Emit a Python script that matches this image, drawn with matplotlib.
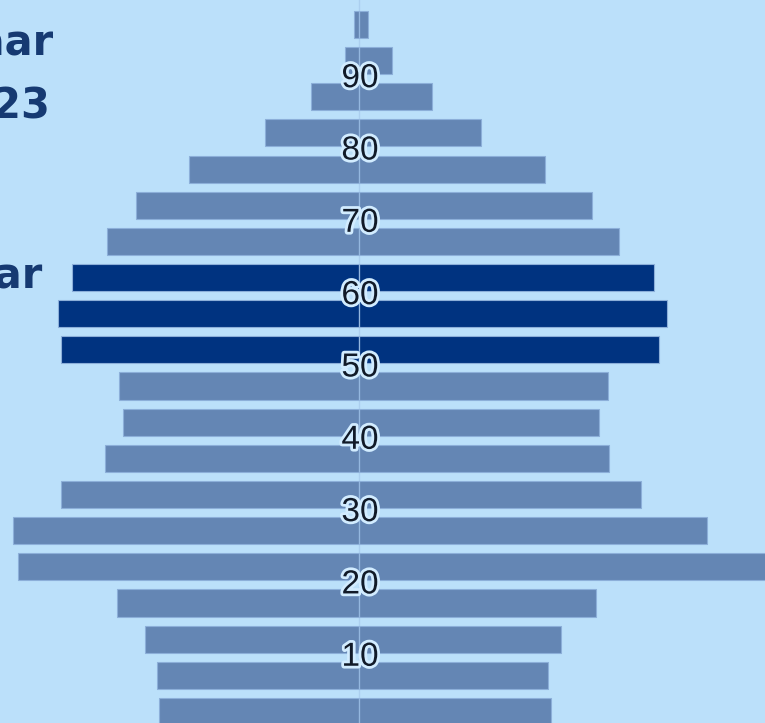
import matplotlib
matplotlib.use("Agg")
import matplotlib.pyplot as plt
import matplotlib.patheffects as pe
from matplotlib import font_manager

# leeftijdsgroepen (begin van elke 5-jaarsklasse)
leeftijd = [0, 5, 10, 15, 20, 25, 30, 35, 40, 45, 50, 55, 60, 65, 70, 75, 80, 85, 90, 95]
mannen = [20.0, 20.2, 21.4, 24.2, 34.1, 34.6, 29.8, 25.4, 23.6, 24.0,
          29.8, 30.1, 28.7, 25.2, 22.3, 17.0, 9.4, 4.8, 1.4, 0.5]
vrouwen = [19.2, 18.9, 20.2, 23.7, 42.0, 34.8, 28.2, 25.0, 24.0, 24.9,
           30.0, 30.8, 29.5, 26.0, 23.3, 18.6, 12.2, 7.3, 3.3, 0.9]
accent = [50, 55, 60]
labels_y = [10, 20, 30, 40, 50, 60, 70, 80, 90]

achtergrond = "#bbe0fa"
kleur = "#6486b4"
donker = "#003380"

namen = {f.name for f in font_manager.fontManager.ttflist}
cijferfont = "Liberation Sans Narrow" if "Liberation Sans Narrow" in namen else "Liberation Sans"

fig = plt.figure(figsize=(7.65, 7.23), dpi=100)
fig.patch.set_facecolor(achtergrond)
ax = fig.add_axes([0, 0, 1, 1])
ax.set_facecolor(achtergrond)

kleuren = [donker if a in accent else kleur for a in leeftijd]
midden = [a + 2.5 for a in leeftijd]
ax.barh(midden, [-m for m in mannen], height=3.75, color=kleuren,
        edgecolor="#8cafd9", linewidth=0.8, zorder=2)
ax.barh(midden, vrouwen, height=3.75, color=kleuren,
        edgecolor="#8cafd9", linewidth=0.8, zorder=2)

ax.axvline(0, color="#9dbfe6", lw=1, alpha=0.5, zorder=3)

for l in labels_y:
    ax.text(0.1, l, str(l), ha="center", va="center", fontsize=24,
            family=cijferfont, color="#111a28", zorder=4,
            path_effects=[pe.withStroke(linewidth=4, foreground="#d2ecff")])

ax.set_xlim(-35.9, 40.6)
ax.set_ylim(0.91, 100.88)
ax.axis("off")

tekstkleur = "#163a72"
fig.text(0.0693, 0.9239, "Leeftijd in jaar", ha="right", va="baseline",
         fontsize=30, fontweight="bold", color=tekstkleur)
fig.text(0.0654, 0.8368, "1 januari 2023", ha="right", va="baseline",
         fontsize=30, fontweight="bold", color=tekstkleur)
fig.text(0.0549, 0.6017, "50 tot 65 jaar", ha="right", va="baseline",
         fontsize=30, fontweight="bold", color=tekstkleur)

fig.savefig("out.png", dpi=100, facecolor=achtergrond)
